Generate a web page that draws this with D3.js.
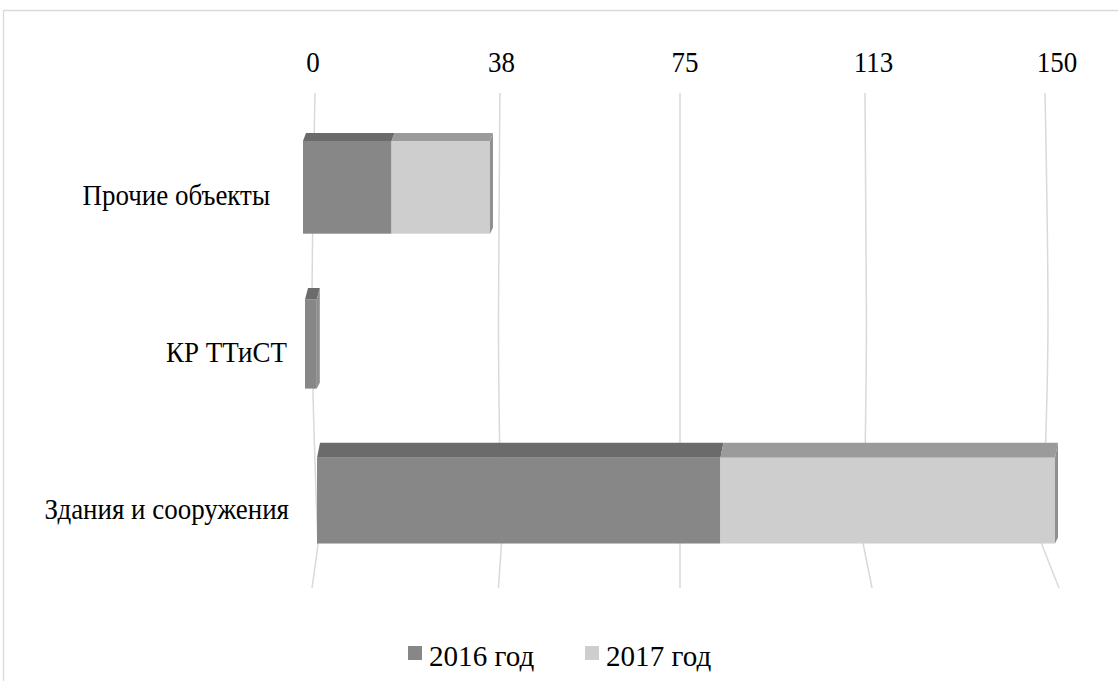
<!DOCTYPE html>
<html><head><meta charset="utf-8">
<script src="https://cdn.jsdelivr.net/npm/d3@7"></script>
<style>html,body{margin:0;padding:0;background:#fff;}svg{display:block;}</style>
</head><body>
<svg id="chart" width="1118" height="681"></svg>
<script>
const categories = ["Прочие объекты", "КР ТТиСТ", "Здания и сооружения"];
const seriesNames = ["2016 год", "2017 год"];
const values2016 = [18, 2.4, 82];
const values2017 = [20, 0, 68];
const tickValues = [0, 38, 75, 113, 150];
const tickLabels = ["0", "38", "75", "113", "150"];

const frontColors = ["#878787", "#cecece"];
const topColors = ["#6b6b6b", "#9b9b9b"];
const sideColor = "#8f8f8f";
const font = "'Liberation Serif','Times New Roman',serif";

const svg = d3.select("#chart");
const W = 1118, H = 681;

// chart border
svg.append("path").attr("d", `M3.5,${H+2} V10.5 H${W+2}`)
  .attr("fill","none").attr("stroke","#d9d9d9").attr("stroke-width",1.3);

// scales
const xWall = d3.scaleLinear().domain([0,150]).range([315,1045]);
const xLabel = d3.scaleLinear().domain([0,150]).range([313,1057]);
const yBand = d3.scaleBand().domain(categories).range([86.5, 590]).paddingInner(0.35).paddingOuter(0.3);
const unit = 4.92;
const rowOrigin = d3.scaleLinear().domain([0,1,2]).range([303,305,317]);
const labelEnd = d3.scaleLinear().domain([0,1,2]).range([270,287,289]);
const topDepthAt = d3.scaleLinear().domain([0,2]).range([8,15]);

function addText(sel, x, y, txt, size, anchor, sx) {
  return sel.append("text")
    .attr("transform", `translate(${x},${y}) scale(${sx},1)`)
    .attr("text-anchor", anchor)
    .attr("font-family", font).attr("font-size", size)
    .attr("fill","#000").text(txt);
}

// gridlines
const gridTop = 93, gridBottom = 545, floorBottom = 588;
const line = d3.line().curve(d3.curveMonotoneY);
const floorSplay = d3.scaleLinear().domain([0,75,150]).range([-6,0,17]);
tickValues.forEach(v => {
  const xt = xWall(v);
  const splay = (v - 75) / 75;
  const pts = [[xt, gridTop],[xt + splay*3, (gridTop+gridBottom)/2],[xt - splay*3, gridBottom]];
  svg.append("path").attr("d", line(pts)).attr("fill","none").attr("stroke","#d9d9d9").attr("stroke-width",1.5);
  svg.append("path").attr("d", d3.line()([[xt - splay*3, gridBottom],[xt - splay*3 + floorSplay(v), floorBottom]]))
    .attr("fill","none").attr("stroke","#d9d9d9").attr("stroke-width",1.5);
});

// tick labels
tickValues.forEach((d,i) => addText(svg, xLabel(d), 72, tickLabels[i], 29, "middle", 0.93));

// bars
categories.forEach((c, i) => {
  const td = topDepthAt(i);
  const yTop = yBand(c) + td;
  const h = yBand.bandwidth() - td;
  const cy = yTop + h/2;
  const x0 = rowOrigin(i);
  const xf = v => x0 + v * unit;
  const vals = [values2016[i], values2017[i]];
  let acc = 0;
  const g = svg.append("g");
  vals.forEach((v, s) => {
    if (v <= 0) return;
    const xa = xf(acc), xb = xf(acc + v);
    g.append("path")
      .attr("d", `M${xa},${yTop} L${xa+3},${yTop-td} L${xb+3},${yTop-td} L${xb},${yTop} Z`)
      .attr("fill", topColors[s]);
    g.append("rect").attr("x", xa).attr("y", yTop).attr("width", xb - xa).attr("height", h)
      .attr("fill", frontColors[s]);
    acc += v;
  });
  const xr = xf(acc);
  g.append("path")
    .attr("d", `M${xr},${yTop} L${xr+3},${yTop-td} L${xr+3},${yTop+h-6} L${xr},${yTop+h} Z`)
    .attr("fill", sideColor);
  addText(svg, labelEnd(i), cy + 18, c, 29, "end", 0.93);
});

// legend
const legX = [408, 585];
seriesNames.forEach((n, s) => {
  svg.append("rect").attr("x", legX[s]).attr("y", 646).attr("width", 14).attr("height", 14)
    .attr("fill", frontColors[s]);
  addText(svg, legX[s] + 21, 666, n, 30, "start", 0.97);
});
</script>
</body></html>
